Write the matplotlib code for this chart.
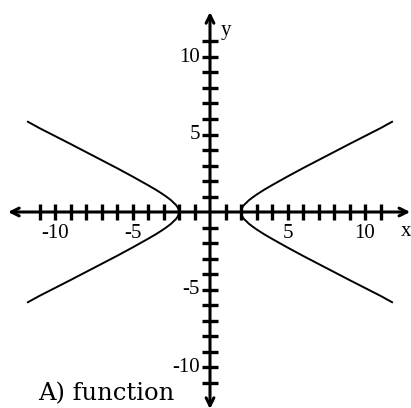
import numpy as np
import matplotlib.pyplot as plt

# upper-right branch of the curve
branch_x = [2.0, 2.03, 2.1, 2.2, 2.35, 2.5, 2.75, 3.0, 3.5, 4.0, 5.0, 6.0, 7.0, 8.0, 9.0, 10.0, 11.0, 11.8]
branch_y = [0.0, 0.17, 0.32, 0.46, 0.6, 0.75, 0.94, 1.12, 1.44, 1.73, 2.29, 2.83, 3.35, 3.87, 4.39, 4.9, 5.41, 5.85]

tick_vals = list(range(-11, 12))
label_vals = [-10, -5, 5, 10]
caption = "A) function"

PX = 15.5  # pixels per unit
fig = plt.figure(figsize=(4.11, 4.08), dpi=100)
ax = fig.add_axes([0, 0, 1, 1])
ax.set_xlim(-210 / PX, 201 / PX)
ax.set_ylim(-196 / PX, 212 / PX)
ax.axis("off")

bx = np.array(branch_x)
by = np.array(branch_y)
for sx in (1, -1):
    for sy in (1, -1):
        ax.plot(sx * bx, sy * by, color="black", lw=1.4, solid_capstyle="butt")

# axes with arrows
arrow = dict(arrowstyle="<->", lw=2.2, color="black", mutation_scale=14,
             shrinkA=0, shrinkB=0)
ax.annotate("", xy=(201 / PX - 0.05, 0), xytext=(-202 / PX, 0), arrowprops=arrow)
ax.annotate("", xy=(0, 200 / PX), xytext=(0, -197 / PX), arrowprops=arrow)

t = 0.52
ticks = [v for v in tick_vals if v != 0]
ax.vlines(ticks, -t, t, color="black", lw=2.4)
ax.hlines(ticks, -t, t, color="black", lw=2.4)

font = dict(family=["Liberation Serif", "DejaVu Serif"], fontsize=15)
for v in label_vals:
    ax.text(v, -12 / PX, str(v), ha="center", va="top", **font)
    ax.text(-10 / PX, v, str(v), ha="right", va="center", **font)

ax.text(196 / PX, -19 / PX, "x", ha="center", va="center", **font)
ax.text(16 / PX, 181 / PX, "y", ha="center", va="center", **font)

ax.text(-172 / PX, -182 / PX, caption, ha="left", va="center",
        family=["DejaVu Serif"], fontsize=17.5)

fig.savefig("out.png", dpi=100)
